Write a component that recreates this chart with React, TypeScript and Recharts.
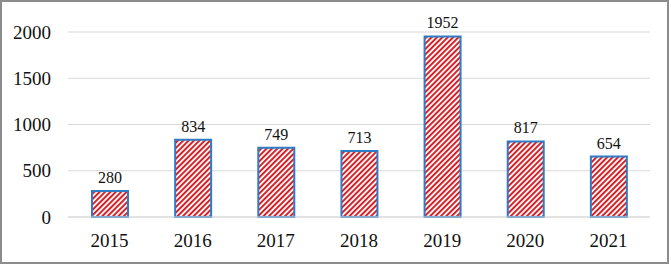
import React from "react";
import { BarChart, Bar, XAxis, YAxis, CartesianGrid, LabelList } from "recharts";

const years = ["2015", "2016", "2017", "2018", "2019", "2020", "2021"];
const counts = [280, 834, 749, 713, 1952, 817, 654];
const yTicks = [0, 500, 1000, 1500, 2000];

const data = years.map((y, i) => ({ year: y, value: counts[i] }));

const FONT = "'Liberation Serif', 'Times New Roman', serif";

export default function App() {
  return (
    <div style={{ position: "absolute", left: 0, top: 0, width: 671, height: 265, background: "#fff" }}>
      <svg width={0} height={0} style={{ position: "absolute" }}>
        <defs>
          <pattern id="hatch" patternUnits="userSpaceOnUse" width={3.8} height={3.8} patternTransform="rotate(45)">
            <rect x={0} y={0} width={3.8} height={3.8} fill="#ffffff" />
            <rect x={0} y={0} width={2} height={3.8} fill="#d42027" />
          </pattern>
        </defs>
      </svg>
      <BarChart
        width={671}
        height={265}
        data={data}
        margin={{ top: 32, right: 21, left: 0, bottom: 0 }}
        style={{ fontFamily: FONT }}
      >
        <CartesianGrid horizontal vertical={false} stroke="#d9d9d9" strokeWidth={1} />
        <XAxis
          dataKey="year"
          height={48}
          axisLine={{ stroke: "#d9d9d9" }}
          tickLine={false}
          tickSize={0}
          tickMargin={17}
          tick={{ fontSize: 19, fill: "#111", fontFamily: FONT }}
        />
        <YAxis
          width={68}
          domain={[0, 2000]}
          ticks={yTicks}
          axisLine={false}
          tickLine={false}
          tickSize={0}
          tickMargin={17}
          tick={{ fontSize: 19, fill: "#111", fontFamily: FONT }}
        />
        <Bar dataKey="value" barSize={36} fill="url(#hatch)" stroke="#2f7cc6" strokeWidth={2} isAnimationActive={false}>
          <LabelList dataKey="value" position="top" offset={8} style={{ fontSize: 16, fill: "#111", fontFamily: FONT }} />
        </Bar>
      </BarChart>
      <div
        style={{
          position: "absolute",
          left: 0,
          top: 0,
          width: 669,
          height: 264,
          border: "2px solid #8c8c8c",
          boxSizing: "border-box",
          pointerEvents: "none",
        }}
      />
    </div>
  );
}
